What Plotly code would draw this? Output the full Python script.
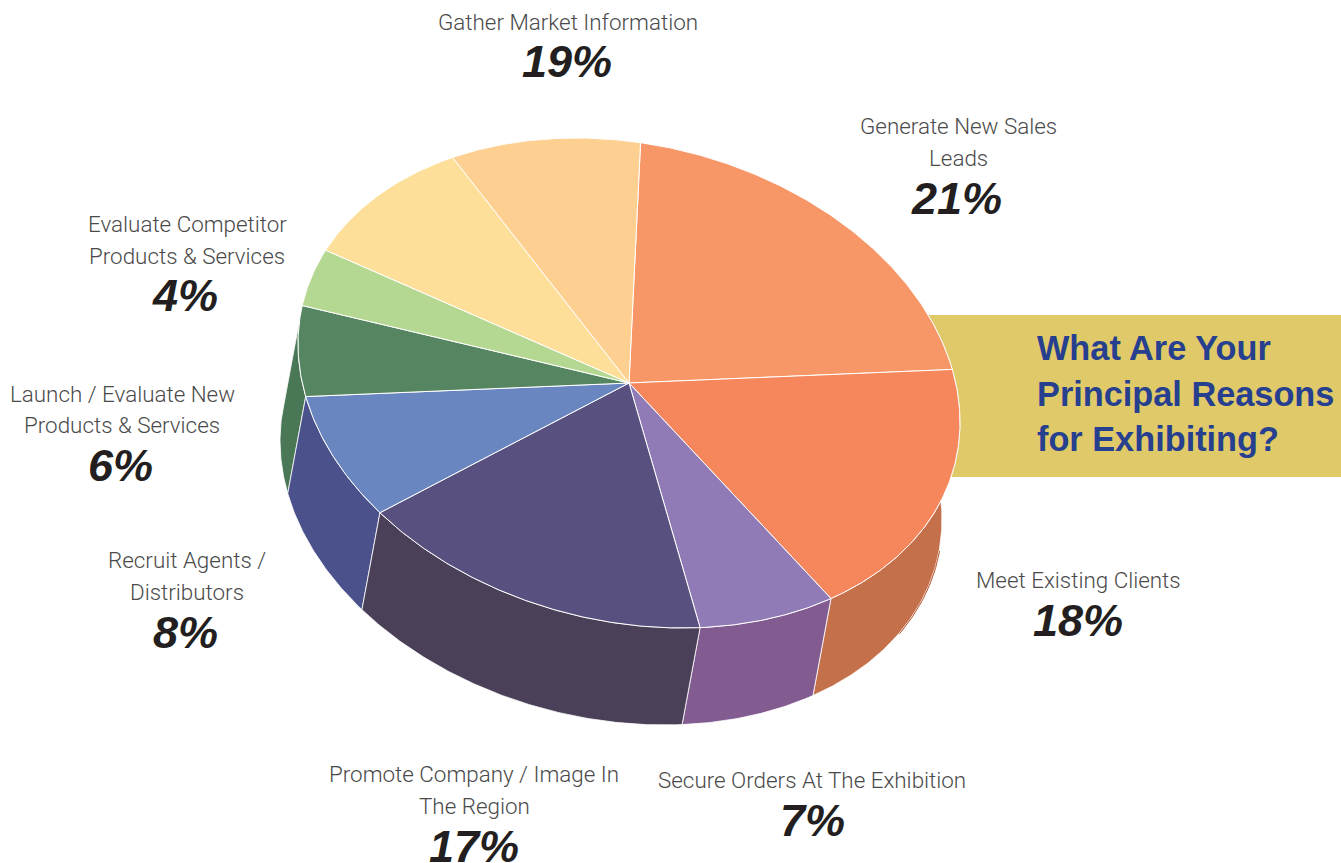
import numpy as np
import plotly.graph_objects as go

# Survey results, clockwise from the top of the pie
categories = [
    "Generate New Sales Leads",
    "Meet Existing Clients",
    "Secure Orders At The Exhibition",
    "Promote Company / Image In The Region",
    "Recruit Agents / Distributors",
    "Launch / Evaluate New Products & Services",
    "Evaluate Competitor Products & Services",
    "Gather Market Information",
]
values = [21, 18, 7, 17, 8, 6, 4, 19]
label_lines = [
    ["Generate New Sales", "Leads"],
    ["Meet Existing Clients"],
    ["Secure Orders At The Exhibition"],
    ["Promote Company / Image In", "The Region"],
    ["Recruit Agents /", "Distributors"],
    ["Launch / Evaluate New", "Products & Services"],
    ["Evaluate Competitor", "Products & Services"],
    ["Gather Market Information"],
]
heading = ["What Are Your", "Principal Reasons", "for Exhibiting?"]

# Top and side colours; a category with two entries is split evenly into two wedges
top_colors = [
    ["#F79768"], ["#F6865C"], ["#917BB7"], ["#58507F"],
    ["#6A86C1"], ["#568661"], ["#B4D891"], ["#FDDF99", "#FDCF90"],
]
side_colors = [
    ["#F79768"], ["#C4714B"], ["#825C91"], ["#4A4159"],
    ["#4A518B"], ["#4A7856"], ["#B4D891"], ["#FDDF99", "#FDCF90"],
]

# Label placement: text centre x, line centres y, percentage centre (x, y)
label_x = [958, 1078, 812, 474, 187, 122, 187, 568]
label_y = [[126, 158], [580], [780], [774, 806], [560, 592], [394, 425], [224, 256], [22]]
pct_pos = [(956, 198), (1078, 620), (812, 820), (474, 846), (185, 632), (120, 465), (185, 295), (567, 61)]

# Pie geometry in page pixels: a tilted ellipse, with the walls dropped along (DX, DY)
CX, CY = 629, 383
RX, SKEW, RY = 331, 39.3, 241.8
DX, DY = -18, 97
START_DEG = 2.0


def rim(a0, a1, dx=0.0, dy=0.0):
    """Points along the pie's rim between two clockwise angles (degrees from top)."""
    t = np.radians(np.linspace(a0, a1, max(int(abs(a1 - a0) * 2), 2)))
    return CX + RX * np.sin(t) + dx, CY + SKEW * np.sin(t) - RY * np.cos(t) + dy


wedges = []
angle = START_DEG
for value, tops, sides in zip(values, top_colors, side_colors):
    sweep = value / sum(values) * 360 / len(tops)
    for top, side in zip(tops, sides):
        wedges.append((angle, angle + sweep, top, side))
        angle += sweep

fig = go.Figure()

# Side walls, back to front
for a0, a1, _, side in sorted(wedges, key=lambda w: -np.cos(np.radians((w[0] + w[1]) / 2))):
    x0, y0 = rim(a0, a1)
    x1, y1 = rim(a0, a1, DX, DY)
    fig.add_trace(go.Scatter(
        x=np.r_[x0, x1[::-1], x0[0]], y=np.r_[y0, y1[::-1], y0[0]],
        mode="lines", fill="toself", fillcolor=side,
        line=dict(color="#FFFFFF", width=0.8), hoverinfo="skip", showlegend=False,
    ))

# Darker edge where the right-hand wall turns out of view
tangent = np.degrees(np.arctan2(RX * DY - SKEW * DX, RY * DX)) % 180
edge_x, edge_y = rim(tangent, tangent + 22, DX + 0.5, DY + 0.3)
fig.add_trace(go.Scatter(
    x=edge_x, y=edge_y, mode="lines", line=dict(color="#B4542B", width=1),
    hoverinfo="skip", showlegend=False,
))

# Top faces
for a0, a1, top, _ in wedges:
    x0, y0 = rim(a0, a1)
    fig.add_trace(go.Scatter(
        x=np.r_[CX, x0, CX], y=np.r_[CY, y0, CY],
        mode="lines", fill="toself", fillcolor=top,
        line=dict(color="#FFFFFF", width=1), hoverinfo="skip", showlegend=False,
    ))

annotations = []
for lines, x, ys, value, (px, py) in zip(label_lines, label_x, label_y, values, pct_pos):
    for line, y in zip(lines, ys):
        annotations.append(dict(
            x=x, y=y, text=line, showarrow=False, xanchor="center", yanchor="middle",
            font=dict(family="Roboto", size=22.4, color="#4A4A4A", weight=300),
        ))
    annotations.append(dict(
        x=px, y=py, text=f"<b><i>{value}%</i></b>", showarrow=False,
        xanchor="center", yanchor="middle",
        font=dict(family="Liberation Sans", size=45, color="#231F20"),
    ))
for line, y in zip(heading, [348, 394, 439]):
    annotations.append(dict(
        x=1035, y=y, text=f"<b>{line}</b>", showarrow=False,
        xanchor="left", yanchor="middle",
        font=dict(family="Liberation Sans", size=34.3, color="#263F8E"),
    ))

fig.update_layout(
    width=1341, height=863, autosize=False,
    margin=dict(l=0, r=0, t=0, b=0),
    paper_bgcolor="#FFFFFF", plot_bgcolor="#FFFFFF",
    xaxis=dict(range=[0, 1341], visible=False, fixedrange=True),
    yaxis=dict(range=[863, 0], visible=False, fixedrange=True),
    shapes=[dict(type="rect", xref="x", yref="y", x0=900, x1=1341, y0=315, y1=477,
                 fillcolor="#E0C968", line_width=0, layer="below")],
    annotations=annotations,
)

fig.write_html("out.html", config={"displayModeBar": False})
